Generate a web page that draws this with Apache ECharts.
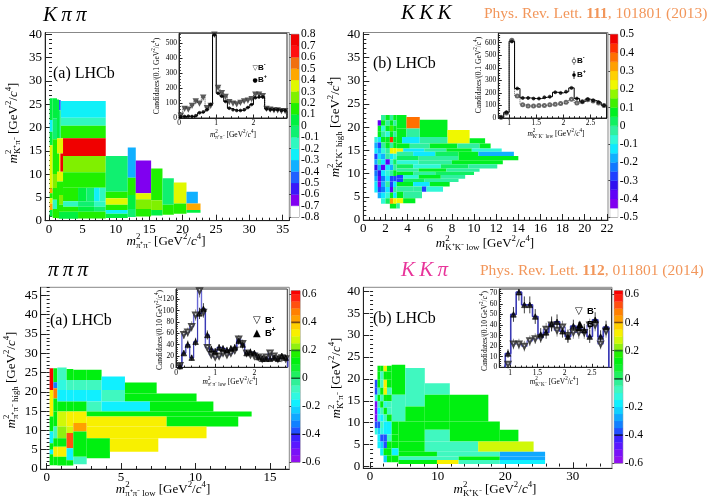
<!DOCTYPE html>
<html>
<head>
<meta charset="utf-8">
<script src="https://cdn.jsdelivr.net/npm/echarts@6.0.0/dist/echarts.min.js"></script>
<style>
html,body{margin:0;padding:0;background:#fff;}
#chart{width:716px;height:500px;}
</style>
</head>
<body>
<div id="chart"></div>
<script>
// ---------------- tick labels ----------------
const kppXTicks = [0,5,10,15,20,25,30,35];
const kppYTicks = [0,5,10,15,20,25,30,35,40];
const kkkXTicks = [0,2,4,6,8,10,12,14,16,18,20,22];
const kkkYTicks = [0,5,10,15,20,25,30,35,40];
const pppXTicks = [0,5,10,15];
const pppYTicks = [0,5,10,15,20,25,30,35,40,45];
const kkpXTicks = [0,10,20,30];
const kkpYTicks = [0,5,10,15,20,25,30,35,40];
const kppScale = [-0.8,-0.7,-0.6,-0.5,-0.4,-0.3,-0.2,-0.1,0,0.1,0.2,0.3,0.4,0.5,0.6,0.7,0.8];
const kkkScale = [-0.5,-0.4,-0.3,-0.2,-0.1,0,0.1,0.2,0.3,0.4,0.5];
const pppScale = [-0.6,-0.4,-0.2,0,0.2,0.4,0.6];
const kkpScale = [-0.6,-0.4,-0.2,0,0.2,0.4,0.6];
const kppInXTicks = [0,1,2];
const kppInYTicks = [0,100,200,300,400,500];
const kkkInXTicks = [1,1.5,2,2.5];
const kkkInYTicks = [0,100,200,300,400,500,600];
const pppInXTicks = [0,1,2];
const pppInYTicks = [0,20,40,60,80,100,120];
const kkpInXTicks = [1,1.5,2,2.5];
const kkpInYTicks = [0,10,20,30,40,50,60,70];

// ---------------- asymmetry cells [x0, x1, y0, y1, A_CP] ----------------
const kppCells = [
 [1.75,8.5,22.1,25.7,-0.25],[1.75,8.5,20.4,22.1,-0.15],[1.75,8.5,17.7,20.4,0.15],
 [2.1,8.5,13.9,17.7,0.75],[2.1,8.5,10.4,13.9,0.25],[2.1,8.5,7.1,10.4,0.15],
 [2.1,4.35,4.2,7.1,0.15],[4.35,5.6,4.2,7.1,0.05],[5.6,6.75,4.2,7.1,-0.05],[6.75,7.6,4.2,7.1,-0.25],[7.6,8.5,4.2,7.1,-0.15],
 [2.1,4.35,3.0,4.2,-0.15],[4.35,6.75,3.0,4.2,-0.05],[6.75,8.5,3.0,4.2,-0.15],
 [2.1,4.35,1.9,3.0,0.15],[4.35,6.75,1.9,3.0,0.05],[6.75,8.5,1.9,3.0,-0.05],
 [1.5,4.35,0.4,1.9,0.05],[4.35,8.5,0.45,1.9,0.15],
 [8.5,11.8,6.2,13.9,-0.05],[8.5,11.8,4.8,6.2,0.15],[8.5,11.8,3.4,4.8,0.35],[8.5,11.8,2.3,3.4,0.15],[8.5,11.8,1.5,2.3,-0.25],[8.5,11.8,0.6,1.5,0.05],
 [11.8,13.0,9.2,15.7,-0.35],[11.8,13.0,5.5,9.2,0.15],[11.8,13.0,2.5,5.5,0.05],[11.8,13.0,0.8,2.5,-0.05],
 [13.0,15.3,5.9,12.9,-0.65],[13.0,15.3,4.6,5.9,0.35],[13.0,15.3,2.5,4.6,0.25],[13.0,15.3,0.9,2.5,0.15],
 [15.3,17.0,4.4,11.2,0.15],[15.3,17.0,2.3,4.4,0.25],[15.3,17.0,1.1,2.3,0.05],
 [17.0,18.7,3.4,9.1,-0.05],[17.0,18.7,1.3,3.4,0.15],
 [18.7,20.6,3.7,8.2,0.35],[18.7,20.6,1.5,3.7,0.15],
 [20.6,22.3,3.7,6.2,-0.35],[20.6,22.7,2.3,3.7,0.45],[20.6,22.7,1.7,2.3,0.05],
 [0.1,0.55,21.6,26.3,0.05],[0.1,0.55,19.1,21.6,-0.25],[0.1,0.55,16.2,19.1,0.05],[0.1,0.55,6.9,16.2,0.35],[0.1,0.55,5.9,6.9,0.45],
 [0.1,0.55,4.8,5.9,0.15],[0.1,0.55,3.7,4.8,0.35],[0.1,0.55,2.3,3.7,0.45],[0.1,0.55,0.9,2.3,0.05],
 [0.55,1.2,22.0,26.3,0.05],[0.55,1.2,17.5,22.0,-0.05],[0.55,1.2,10.0,17.5,0.15],[0.55,1.2,7.0,10.0,0.25],[0.55,1.2,4.5,7.0,0.15],[0.55,1.2,2.5,4.5,-0.15],[0.55,1.2,0.6,2.5,0.15],
 [1.2,1.5,17.7,26.0,0.05],[1.2,1.5,14.4,17.7,0.35],[1.2,1.5,10.5,14.4,0.15],[1.2,1.5,8.4,10.5,0.35],[1.2,1.5,0.5,8.4,0.15],
 [1.5,1.75,23.7,25.9,-0.45],[1.5,1.75,17.7,23.7,-0.05],
 [1.5,2.1,14.4,17.7,0.35],[1.5,1.7,10.5,14.4,0.35],[1.7,2.1,10.5,14.4,0.75],[1.5,2.1,8.4,10.5,0.35],[1.5,2.1,5.5,8.4,0.15],[1.5,2.1,3.5,5.5,0.25],[1.5,2.1,1.9,3.5,0.15]
];

const kkkCells = [
 [3.0,3.9,19.7,22.6,0.075],[3.9,5.1,19.7,22.2,0.37],[5.1,7.6,17.9,21.6,0.075],[7.6,9.6,16.5,19.4,0.225],[9.6,11.0,16.5,17.6,0.075],
 [3.0,3.9,17.9,19.7,0.075],[3.9,5.1,17.9,19.7,-0.025],
 [3.0,3.5,16.5,17.9,0.075],[3.5,5.1,16.5,17.9,-0.125],[5.1,7.6,16.5,17.9,-0.025],
 [3.0,4.2,15.4,16.5,0.075],[4.2,6.0,15.4,16.5,-0.025],[6.0,8.5,15.4,16.5,0.075],[8.5,10.5,15.4,16.5,-0.025],[10.5,11.5,15.4,16.5,0.075],
 [3.0,3.6,14.7,15.4,0.225],[3.6,5.5,14.7,15.4,-0.125],[5.5,7.5,14.7,15.4,-0.025],[7.5,9.8,14.7,15.4,0.075],[9.8,12.5,14.7,15.4,-0.075],
 [3.0,4.5,13.8,14.7,-0.025],[4.5,6.5,13.8,14.7,-0.125],[6.5,8.6,13.8,14.7,0.025],[8.6,10.4,13.8,14.7,0.075],[10.4,13.6,13.8,14.7,-0.175],
 [3.0,5.0,12.9,13.8,0.025],[5.0,8.6,12.9,13.8,-0.025],[8.6,14.0,12.9,13.8,0.075],
 [3.0,5.0,12.0,12.9,-0.075],[5.0,8.0,12.0,12.9,-0.025],[8.0,12.6,12.0,12.9,0.075],
 [3.0,4.5,11.1,12.0,0.025],[4.5,7.0,11.1,12.0,-0.075],[7.0,9.5,11.1,12.0,0.025],[9.5,12.1,11.1,12.0,-0.025],
 [3.0,5.0,10.4,11.1,-0.025],[5.0,7.5,10.4,11.1,0.075],[7.5,10.5,10.4,11.1,-0.025],
 [3.0,4.5,9.7,10.4,0.075],[4.5,6.5,9.7,10.4,-0.025],[6.5,10.0,9.7,10.4,0.025],
 [3.0,3.6,8.9,9.7,-0.275],[3.6,5.0,8.9,9.7,-0.075],[5.0,7.0,8.9,9.7,0.075],[7.0,9.2,8.9,9.7,-0.025],
 [3.0,3.6,8.2,8.9,-0.275],[3.6,5.5,8.2,8.9,0.025],[5.5,8.6,8.2,8.9,-0.025],
 [3.0,4.5,7.2,8.2,0.075],[4.5,6.0,7.2,8.2,-0.125],[6.0,7.8,7.2,8.2,0.075],
 [3.0,4.5,6.1,7.2,-0.025],[4.5,5.3,6.1,7.2,-0.025],[5.3,5.7,6.1,7.2,-0.275],[5.7,7.2,6.1,7.2,-0.075],
 [3.0,3.6,4.7,6.1,0.075],[3.6,5.3,4.7,6.1,-0.025],
 [3.0,3.6,3.6,4.7,0.225],[3.6,4.7,3.6,4.7,0.075],
 [2.4,3.0,2.5,3.6,0.075],[3.0,3.3,2.5,3.6,-0.025]
];
const kkkLeftCols = [1.0,1.3,1.6,2.0,2.4,2.7,3.0];
const kkkLeftRows = [
 [21.5,22.6,[null,null,-0.025,0.075,-0.025,0.075]],
 [20.3,21.5,[null,-0.375,0.075,-0.025,0.075,-0.025]],
 [19.1,20.3,[null,0.075,-0.075,0.075,0.125,0.075]],
 [17.9,19.1,[null,0.075,-0.025,-0.075,0.075,-0.025]],
 [16.7,17.9,[-0.075,-0.125,0.075,0.075,0.425,0.075]],
 [15.5,16.7,[-0.175,-0.275,-0.025,0.075,-0.025,0.075]],
 [14.3,15.5,[-0.125,-0.175,-0.075,-0.025,0.225,0.225]],
 [13.1,14.3,[-0.275,-0.125,-0.175,-0.025,-0.125,-0.075]],
 [11.9,13.1,[-0.175,-0.025,-0.125,-0.375,-0.075,0.025]],
 [10.7,11.9,[-0.325,-0.175,-0.375,-0.125,-0.175,-0.025]],
 [9.5,10.7,[-0.225,-0.325,-0.125,-0.075,-0.025,0.075]],
 [8.3,9.5,[-0.175,-0.375,-0.225,-0.125,-0.275,-0.275]],
 [7.1,8.3,[-0.125,-0.425,-0.175,-0.025,-0.275,-0.125]],
 [5.9,7.1,[-0.125,-0.275,-0.225,-0.125,-0.375,-0.025]],
 [4.7,5.9,[null,-0.175,-0.125,-0.075,0.075,-0.125]],
 [3.5,4.7,[null,null,-0.075,0.025,0.325,0.225]]
];

const pppCells = [
 [0.2,0.45,20.5,26.1,0.6],[0.2,0.45,13.6,20.5,0.33],[0.2,0.45,9.7,13.6,0.12],[0.2,0.45,6.7,9.7,-0.17],[0.2,0.45,5.0,6.7,0.12],[0.2,0.45,3.8,5.0,-0.17],[0.2,0.45,1.0,3.8,0.12],
 [0.45,0.72,22.5,26.1,0.12],[0.45,0.72,20.9,22.5,-0.32],[0.45,0.72,18.3,20.9,0.47],[0.45,0.72,14.9,18.3,0.12],[0.45,0.72,11.0,14.9,0.12],[0.45,0.72,8.0,11.0,-0.07],[0.45,0.72,5.8,8.0,0.12],[0.45,0.72,3.2,5.8,0.33],[0.45,0.72,1.0,3.2,0.12],
 [0.72,1.34,23.1,26.3,-0.07],[0.72,1.34,20.5,23.1,-0.12],[0.72,1.34,17.5,20.5,-0.17],[0.72,1.34,14.9,17.5,0.12],[0.72,1.34,11.0,14.9,0.27],[0.72,1.34,8.0,11.0,0.22],[0.72,1.34,5.8,8.0,0.12],[0.72,1.34,3.2,5.8,0.33],[0.72,1.34,0.9,3.2,0.12],
 [1.34,1.79,23.1,25.9,0.12],[1.34,1.79,20.5,23.1,-0.07],[1.34,1.79,17.5,20.5,-0.17],[1.34,1.79,14.9,17.5,0.12],[1.34,1.79,11.0,14.9,0.33],[1.34,1.79,9.3,11.0,0.27],[1.34,1.79,5.4,9.3,0.52],[1.34,1.79,2.3,5.4,-0.17],[1.34,1.79,0.9,2.3,0.12],
 [1.79,2.69,23.1,25.7,0.12],[1.79,2.69,20.5,23.1,-0.07],[1.79,2.69,17.5,20.5,-0.17],[1.79,2.69,14.9,17.5,0.12],[1.79,2.69,11.9,14.9,0.33],[1.79,2.69,9.7,11.9,0.43],[1.79,2.69,3.2,9.7,0.12],[1.79,2.69,1.2,3.2,-0.07],
 [2.69,3.69,23.1,25.7,0.12],[2.69,3.69,20.5,23.1,-0.07],[3.69,5.26,20.5,24.0,-0.17],[5.26,7.39,19.6,22.4,0.12],
 [2.69,3.69,17.5,20.5,-0.17],[3.69,5.26,17.5,20.5,-0.07],[5.26,10.07,17.5,19.6,0.12],
 [2.69,3.69,14.9,17.5,-0.07],[3.69,6.94,14.9,17.5,-0.17],[6.94,11.2,14.9,17.5,0.12],
 [2.69,13.77,13.6,14.9,0.12],
 [2.69,8.06,11.0,13.6,0.33],[8.06,12.87,11.0,13.6,0.12],
 [2.69,10.74,8.0,11.0,0.33],
 [2.69,4.25,2.8,8.0,0.12],[4.25,7.5,4.5,8.0,0.33]
];

const kkpCells = [
 [3.2,5.2,16.4,23.2,0.12],[5.2,8.1,13.7,22.5,-0.07],[8.1,11.8,16.4,19.0,-0.07],[8.1,11.8,10.3,16.4,0.12],[11.8,17.5,10.3,16.4,0.12],
 [5.2,8.1,10.3,13.7,0.12],[3.2,5.2,10.3,16.4,-0.07],
 [4.2,8.1,5.7,10.3,0.12],[8.1,11.8,8.4,10.3,0.12],[8.1,11.8,5.7,8.4,-0.07],[11.8,19.2,5.7,10.3,0.12],[19.2,21.95,5.7,8.4,0.12],
 [4.2,8.1,3.4,5.7,0.12],[8.1,16.0,3.4,5.7,-0.07],[16.0,24.2,3.4,5.7,0.27],
 [4.2,9.9,2.3,3.4,0.12],[9.9,19.2,2.3,3.4,-0.07],[19.2,25.9,2.3,3.4,-0.28],
 [4.2,13.1,1.5,2.3,-0.07],[13.1,19.2,1.5,2.3,0.12],[19.2,25.9,1.5,2.3,-0.28],
 [4.2,9.9,0.6,1.5,0.12],[9.9,13.1,0.6,1.5,0.33],[13.1,19.2,0.6,1.5,-0.07],[19.2,25.9,0.6,1.5,-0.17]
];
const kkpLeftCols = [0.7,1.1,1.5,2.0,2.5,3.2,4.2];
const kkpLeftRows = [
 [21.7,23.0,[null,0.12,0.12,0.33,0.12,null]],
 [19.8,21.7,[null,0.12,-0.07,0.12,0.12,null]],
 [18.0,19.8,[-0.37,0.12,-0.07,0.33,0.12,null]],
 [16.4,18.0,[-0.37,-0.07,0.12,0.33,-0.07,null]],
 [14.9,16.4,[-0.12,0.12,-0.07,0.12,0.12,null]],
 [13.4,14.9,[-0.52,-0.07,0.12,-0.12,-0.07,null]],
 [11.9,13.4,[-0.52,-0.17,-0.07,0.12,-0.07,null]],
 [10.3,11.9,[-0.52,-0.12,-0.17,-0.07,0.12,null]],
 [8.8,10.3,[-0.37,-0.37,-0.07,-0.17,-0.17,0.12]],
 [7.3,8.8,[-0.12,-0.22,-0.12,-0.17,-0.17,0.12]],
 [5.7,7.3,[null,-0.17,-0.37,-0.37,-0.07,0.12]],
 [4.2,5.7,[null,-0.17,-0.22,-0.37,0.12,0.12]],
 [2.5,4.2,[null,null,-0.17,0.12,0.12,-0.17]],
 [1.0,2.5,[null,null,null,-0.22,0.12,0.12]]
];

// ---------------- inset histograms ----------------
const kppInStart = 0, kppInWidth = 0.1;
const kppInBplus  = [8,10,12,10,15,35,40,55,90,555,165,145,110,65,55,50,50,55,70,90,135,140,140,60,55,55,55,50,50];
const kppInBminus = [20,65,60,85,115,100,140,70,85,560,205,170,145,110,100,95,105,115,120,130,160,160,150,65,60,55,55,50,50];
const kkkInStart = 0.8, kkkInWidth = 0.1;
const kkkInBplus  = [5,45,610,235,160,160,155,155,165,170,205,200,210,240,155,130,150,140,125,100];
const kkkInBminus = [5,40,620,175,105,95,95,100,100,105,110,115,125,150,120,130,145,135,120,100];
const pppInStart = 0.05, pppInWidth = 0.1;
const pppInBplus  = [2,25,40,17,45,95,103,57,32,28,35,33,30,33,35,47,40,25,27,25,18,15,15,15,17,15,20,17];
const pppInBminus = [3,58,62,72,92,135,97,35,22,18,20,25,22,25,30,50,42,25,22,20,18,15,18,25,20,15,17,15];
const pppInBplusErr  = [2,5,7,5,7,10,10,8,6,6,6,6,6,6,6,7,7,5,6,5,5,4,4,4,4,4,5,4];
const pppInBminusErr = [2,8,8,9,10,12,10,6,5,4,5,5,5,5,6,7,7,5,5,5,4,4,4,5,5,4,4,4];
const kkpInStart = 0.91, kkpInWidth = 0.1;
const kkpInBplus  = [13,50,71,59,59,48,31,33,41,43,34,29,39,37,35,29,45,29,38];
const kkpInBminus = [3,22,22,20,25,27,28,36,40,35,38,30,33,33,33,40,40,22,34];
const kkpInBplusErr  = [4,7,8,8,8,7,6,6,7,7,6,6,6,6,6,6,7,6,6];
const kkpInBminusErr = [2,5,5,5,5,5,5,6,6,6,6,6,6,6,6,6,6,5,6];

// ---------------- palettes (style) ----------------
const kppPal = {min:-0.8, step:0.1, colors:['#ffffff','#8000f0','#3a18f8','#2060ff','#10b0ff','#10f0f8','#30f8c0','#10f070','#00f040','#20f000','#80f000','#e0f800','#ffa800','#f07010','#ff1010','#f00000']};
const kkkPal = {min:-0.5, step:0.05, colors:['#ffffff','#8000f0','#6000f8','#3010f0','#2040ff','#1078ff','#10b0ff','#10e8ff','#30f8d8','#30f0a0','#10f060','#00f020','#40f000','#90f800','#f0f800','#ffd000','#ffa000','#ff7000','#ff3000','#f00000']};
const pkPal = {min:-0.6, step:0.05, colors:['#9010f0','#7a10f8','#5a18ff','#3c20ff','#2050ff','#1080ff','#10a8ff','#10d0ff','#10f0ff','#30f8e0','#40f8c0','#30f098','#20f060','#10f030','#00f010','#20f000','#90f010','#d0f808','#f8f000','#ffd000','#ffa000','#ff8000','#ff5010','#ff2010','#f80000']};
function palColor(p, v){ const n=p.colors.length; let i=Math.floor((v-p.min)/p.step+1e-6); i=Math.max(0,Math.min(n-1,i)); return p.colors[i]; }

const SERIF = '"Liberation Serif","Times New Roman",serif';
const SANS = '"Liberation Sans",Arial,sans-serif';
const SYM = '"DejaVu Sans",sans-serif';

function tableCells(cols, rows){ const out=[]; rows.forEach(r=>r[2].forEach((v,i)=>{ if(v!==null) out.push([cols[i],cols[i+1],r[0],r[1],v]); })); return out; }

// ---------------- layout ----------------
const grids = [
 {left:45, top:32.5, width:244.3, height:188.2, show:true, borderColor:'#888', borderWidth:1},
 {left:363.3, top:32.5, width:244.7, height:187.5, show:true, borderColor:'#888', borderWidth:1},
 {left:40.7, top:287.3, width:248.6, height:181.7, show:true, borderColor:'#888', borderWidth:1},
 {left:363.3, top:287.3, width:248.7, height:181, show:true, borderColor:'#888', borderWidth:1},
 {left:291, top:34.3, width:8, height:183, show:true, borderColor:'#777', borderWidth:0.8},
 {left:610.3, top:34.3, width:7.4, height:183, show:true, borderColor:'#777', borderWidth:0.8},
 {left:291.3, top:290.7, width:8.7, height:171.6, show:true, borderColor:'#777', borderWidth:0.8},
 {left:614.3, top:290.7, width:8.4, height:172.6, show:true, borderColor:'#777', borderWidth:0.8},
 {left:179, top:33.3, width:108, height:84.7, show:true, borderColor:'#333', borderWidth:1, backgroundColor:'#fff'},
 {left:498.3, top:33.3, width:108.4, height:84.7, show:true, borderColor:'#333', borderWidth:1, backgroundColor:'#fff'},
 {left:176, top:289, width:111.3, height:78.3, show:true, borderColor:'#333', borderWidth:1, backgroundColor:'#fff'},
 {left:499.3, top:289, width:112.2, height:78.3, show:true, borderColor:'#333', borderWidth:1, backgroundColor:'#fff'}
];

const xAxes=[], yAxes=[];
function majorAxis(grid,pos,min,max,ticks,st,margin){
  return {gridIndex:grid,type:'value',position:pos,min:min,max:max,
    axisLine:{show:true,onZero:false,lineStyle:{color:'#222',width:1}},
    axisTick:{show:true,inside:true,length:st.len,customValues:ticks,lineStyle:{color:'#222',width:1}},
    axisLabel:{show:true,customValues:ticks,margin:margin,fontFamily:SERIF,fontSize:st.fs,color:'#000',showMinLabel:true,showMaxLabel:true,hideOverlap:false},
    splitLine:{show:false}};
}
function minorAxis(grid,pos,min,max,step,st){
  const vals=[]; for(let v=Math.ceil(min/step-1e-9)*step; v<=max+1e-9; v+=step) vals.push(+v.toFixed(4));
  return {gridIndex:grid,type:'value',position:pos,min:min,max:max,axisLine:{show:false},
    axisTick:{show:true,inside:true,length:st.mlen,customValues:vals,lineStyle:{color:'#222',width:1}},
    axisLabel:{show:false},splitLine:{show:false}};
}
function axes(grid,xr,yr,xt,yt,xm,ym,st){
  const xi=xAxes.length, yi=yAxes.length;
  xAxes.push(majorAxis(grid,'bottom',xr[0],xr[1],xt,st,st.xm));
  xAxes.push(minorAxis(grid,'bottom',xr[0],xr[1],xm,st));
  yAxes.push(majorAxis(grid,'left',yr[0],yr[1],yt,st,st.ym));
  yAxes.push(minorAxis(grid,'left',yr[0],yr[1],ym,st));
  return [xi,yi];
}
const mainSt = {fs:13, len:6, mlen:3, xm:2, ym:3};
const inSt = {fs:7.5, len:3.5, mlen:1.8, xm:1.5, ym:2};
const A0 = axes(0,[-0.6,36],[0,40.4],kppXTicks,kppYTicks,1,1,mainSt);
const A1 = axes(1,[0,22.1],[0,40.4],kkkXTicks,kkkYTicks,0.5,1,mainSt);
const A2 = axes(2,[-0.4,16.3],[0,47.1],pppXTicks,pppYTicks,1,1,mainSt);
const A3 = axes(3,[-1,35.8],[-0.4,40.9],kkpXTicks,kkpYTicks,2,1,mainSt);
const I0 = axes(8,[0,2.9],[0,565],kppInXTicks,kppInYTicks,0.2,20,inSt);
const I1 = axes(9,[0.8,2.8],[0,675],kkkInXTicks,kkkInYTicks,0.1,20,inSt);
const I2 = axes(10,[0,2.84],[0,138],pppInXTicks,pppInYTicks,0.2,4,inSt);
const I3 = axes(11,[0.8,2.86],[0,74],kkpInXTicks,kkpInYTicks,0.1,2,inSt);

// colour bar: labels split over two coincident axes so neighbouring labels never collide
function cbLabelAxis(grid,min,max,vals,fs){
  return {gridIndex:grid,type:'value',position:'right',offset:0,min:min,max:max,
    axisLine:{show:false},
    axisTick:{show:true,inside:true,length:2,customValues:vals,lineStyle:{color:'#444'}},
    axisLabel:{customValues:vals,margin:2,fontFamily:SERIF,fontSize:fs,color:'#000',showMinLabel:true,showMaxLabel:true,hideOverlap:false,
      formatter:v=>String(Math.round(v*10)/10)},
    splitLine:{show:false}};
}
function cbAxes(grid,min,max,scale,fs){
  const xi=xAxes.length, yi=yAxes.length;
  xAxes.push({gridIndex:grid,type:'value',min:0,max:1,show:false});
  yAxes.push(cbLabelAxis(grid,min,max,scale.filter((v,i)=>i%2===0),fs));
  yAxes.push(cbLabelAxis(grid,min,max,scale.filter((v,i)=>i%2===1),fs));
  return [xi,yi];
}
const C0 = cbAxes(4,-0.8,0.8,kppScale,11.5);
const C1 = cbAxes(5,-0.5,0.5,kkkScale,11.5);
const C2 = cbAxes(6,-0.6,0.626,pppScale,11.5);
const C3 = cbAxes(7,-0.6,0.626,kkpScale,11.5);

// ---------------- series ----------------
function cellSeries(ax, cells, pal){
  return {type:'custom', xAxisIndex:ax[0], yAxisIndex:ax[1], data:cells, clip:true, silent:true, z:2,
    encode:{x:[0,1], y:[2,3]},
    renderItem:function(params, api){
      const a = api.coord([api.value(0), api.value(3)]);
      const b = api.coord([api.value(1), api.value(2)]);
      const c = palColor(pal, api.value(4));
      return {type:'rect', shape:{x:a[0], y:a[1], width:b[0]-a[0], height:b[1]-a[1]}, style:{fill:c}};
    }};
}
function barSeries(ax, pal){
  const data = pal.colors.map((c,i)=>[i]);
  return {type:'custom', xAxisIndex:ax[0], yAxisIndex:ax[1], data:data, clip:true, silent:true, z:2,
    renderItem:function(params, api){
      const i = api.value(0);
      const lo = pal.min + i*pal.step, hi = lo + pal.step;
      const a = api.coord([0, hi]); const b = api.coord([1, lo]);
      return {type:'rect', shape:{x:a[0], y:a[1], width:b[0]-a[0], height:b[1]-a[1]}, style:{fill:pal.colors[i], stroke:pal.colors[i], lineWidth:0.3}};
    }};
}
const pkLevels = [0.4, 0.2, 0, -0.4];
const pkLevelColors = ['#7a4a10','#1f7a1f','#0f5f30','#14145a'];
function levelSeries(ax){
  return {type:'custom', xAxisIndex:ax[0], yAxisIndex:ax[1], data:pkLevels.map(v=>[v]), clip:true, silent:true, z:3,
    renderItem:function(params, api){
      const p = api.coord([0, api.value(0)]); const q = api.coord([1, api.value(0)]);
      return {type:'rect', shape:{x:p[0], y:p[1]-0.8, width:q[0]-p[0], height:1.6}, style:{fill:pkLevelColors[params.dataIndex]}};
    }};
}
function stepData(start, w, vals){ const d=[[start,0]]; vals.forEach((v,i)=>{ d.push([+(start+i*w).toFixed(4), v]); d.push([+(start+(i+1)*w).toFixed(4), v]); }); d.push([+(start+vals.length*w).toFixed(4),0]); return d; }
function centerData(start, w, vals){ return vals.map((v,i)=>[+(start+(i+0.5)*w).toFixed(4), v]); }
function hist(ax, start, w, vals, color, width, type){
  return {type:'line', xAxisIndex:ax[0], yAxisIndex:ax[1], data:stepData(start,w,vals), symbol:'none', showSymbol:false, silent:true, clip:true, z:5,
    lineStyle:{color:color, width:width, type:type}};
}
function marks(ax, start, w, vals, symbol, size, color, rot, bw){
  return {type:'scatter', xAxisIndex:ax[0], yAxisIndex:ax[1], data:centerData(start,w,vals), symbol:symbol, symbolSize:size, symbolRotate:rot||0, silent:true, clip:true, z:6,
    itemStyle:{color:color, borderColor:color, borderWidth:bw||0.8}};
}
function errBars(ax, start, w, vals, errs, color){
  const data = vals.map((v,i)=>[+(start+(i+0.5)*w).toFixed(4), v, errs[i]]);
  return {type:'custom', xAxisIndex:ax[0], yAxisIndex:ax[1], data:data, clip:true, silent:true, z:5,
    renderItem:function(params, api){
      const x=api.value(0), v=api.value(1), e=api.value(2);
      const p=api.coord([x, v-e]), q=api.coord([x, v+e]);
      return {type:'line', shape:{x1:p[0], y1:p[1], x2:q[0], y2:q[1]}, style:{stroke:color, lineWidth:0.8}};
    }};
}

const series = [
 cellSeries(A0, kppCells, kppPal),
 cellSeries(A1, kkkCells.concat(tableCells(kkkLeftCols, kkkLeftRows)), kkkPal),
 cellSeries(A2, pppCells, pkPal),
 cellSeries(A3, kkpCells.concat(tableCells(kkpLeftCols, kkpLeftRows)), pkPal),
 barSeries(C0, kppPal), barSeries(C1, kkkPal), barSeries(C2, pkPal), barSeries(C3, pkPal),
 levelSeries(C2), levelSeries(C3),
 hist(I0, kppInStart, kppInWidth, kppInBminus, '#444', 1, 'dotted'),
 hist(I0, kppInStart, kppInWidth, kppInBplus, '#000', 1, 'solid'),
 marks(I0, kppInStart, kppInWidth, kppInBminus, 'emptyTriangle', 3.2, '#333', 180, 0.6),
 marks(I0, kppInStart, kppInWidth, kppInBplus, 'circle', 2.8, '#000'),
 hist(I1, kkkInStart, kkkInWidth, kkkInBminus, '#555', 1, 'dotted'),
 hist(I1, kkkInStart, kkkInWidth, kkkInBplus, '#000', 1, 'solid'),
 marks(I1, kkkInStart, kkkInWidth, kkkInBminus, 'emptyCircle', 3, '#444', 0, 0.6),
 marks(I1, kkkInStart, kkkInWidth, kkkInBplus, 'circle', 3, '#000'),
 hist(I2, pppInStart, pppInWidth, pppInBminus, '#6a6ad8', 1.4, 'solid'),
 hist(I2, pppInStart, pppInWidth, pppInBplus, '#3a3ab4', 1.2, 'solid'),
 errBars(I2, pppInStart, pppInWidth, pppInBminus, pppInBminusErr, '#777'),
 errBars(I2, pppInStart, pppInWidth, pppInBplus, pppInBplusErr, '#111'),
 marks(I2, pppInStart, pppInWidth, pppInBminus, 'emptyTriangle', 5, '#222', 180),
 marks(I2, pppInStart, pppInWidth, pppInBplus, 'triangle', 5.5, '#000'),
 hist(I3, kkpInStart, kkpInWidth, kkpInBminus, '#6a6ad8', 1.2, 'solid'),
 hist(I3, kkpInStart, kkpInWidth, kkpInBplus, '#3a3ab4', 1.6, 'solid'),
 errBars(I3, kkpInStart, kkpInWidth, kkpInBminus, kkpInBminusErr, '#777'),
 errBars(I3, kkpInStart, kkpInWidth, kkpInBplus, kkpInBplusErr, '#111'),
 marks(I3, kkpInStart, kkpInWidth, kkpInBminus, 'emptyTriangle', 5, '#222', 180),
 marks(I3, kkpInStart, kkpInWidth, kkpInBplus, 'triangle', 5.5, '#000')
];

// ---------------- text ----------------
const mctx = document.createElement('canvas').getContext('2d');
function tw(t, font){ mctx.font = font; return mctx.measureText(t).width; }
function mt(parts, o){
  const kids=[]; let x=0; let prev=null; const fam=o.family||SERIF; const col=o.color||'#000';
  parts.forEach(p=>{
    const t=p[0], k=p[1];
    const small=(k==='sup'||k==='sub');
    const fs= small ? o.size*0.68 : o.size;
    const font=(k==='i'?'italic ':'')+((k==='b'||o.bold)?'bold ':'')+fs+'px '+fam;
    const w=tw(t,font);
    let x0=x;
    if(k==='sub' && prev && prev.k==='sup') x0=prev.x0;
    const dy = k==='sup' ? -o.size*0.38 : (k==='sub' ? o.size*0.3 : 0);
    kids.push({type:'text', x:x0, y:dy, z:100, zlevel:1, style:{text:t, font:font, fill:col, textAlign:'left', textVerticalAlign:'middle', align:'left', verticalAlign:'middle'}});
    x=Math.max(x, x0+w); prev={k:k, x0:x0};
  });
  const off = o.anchor==='left' ? 0 : -x/2;
  kids.forEach(c=>{ c.x+=off; });
  return {type:'group', x:o.x, y:o.y, rotation:o.rot||0, z:100, zlevel:1, children:kids};
}
function mass(sub){ return [['m','i'],['2','sup'],[sub,'sub'],[' [GeV','n'],['2','sup'],['/','n'],['c','i'],['4','sup'],[']','n']]; }
function cand(w){ return [['Candidates/('+w+' GeV','n'],['2','sup'],['/','n'],['c','i'],['4','sup'],[')','n']]; }
const R = Math.PI/2;
const graphics = [
 // inset legends
 mt([['\u25bd','n']], {x:575, y:311, size:10, family:SYM, anchor:'left'}),
 mt([['B','n'],['-','sup']], {x:587, y:311.5, size:9.5, family:SANS, bold:true, anchor:'left'}),
 mt([['\u25b2','n']], {x:576, y:324, size:10, family:SYM, anchor:'left'}),
 mt([['B','n'],['+','sup']], {x:587, y:324.5, size:9.5, family:SANS, bold:true, anchor:'left'}),
 mt([['\u25bd','n']], {x:253, y:320, size:10, family:SYM, anchor:'left'}),
 mt([['B','n'],['-','sup']], {x:265, y:320.5, size:9.5, family:SANS, bold:true, anchor:'left'}),
 mt([['\u25b2','n']], {x:253, y:333, size:10, family:SYM, anchor:'left'}),
 mt([['B','n'],['+','sup']], {x:265, y:333.5, size:9.5, family:SANS, bold:true, anchor:'left'}),
 mt([['\u25bd','n']], {x:252.5, y:68, size:7, family:SYM, anchor:'left', color:'#333'}),
 mt([['B','n'],['-','sup']], {x:258, y:68, size:8, family:SANS, bold:true, anchor:'left'}),
 mt([['\u25cf','n']], {x:252.5, y:80, size:6, family:SYM, anchor:'left'}),
 mt([['B','n'],['+','sup']], {x:258, y:80, size:8, family:SANS, bold:true, anchor:'left'}),
 {type:'line', z:100, zlevel:1, shape:{x1:574,y1:57,x2:574,y2:65}, style:{stroke:'#555', lineWidth:0.8}},
 {type:'circle', z:101, zlevel:1, shape:{cx:574,cy:61,r:1.8}, style:{fill:'#fff', stroke:'#444', lineWidth:0.8}},
 mt([['B','n'],['-','sup']], {x:577, y:61, size:8, family:SANS, bold:true, anchor:'left'}),
 {type:'line', z:100, zlevel:1, shape:{x1:574,y1:71,x2:574,y2:79}, style:{stroke:'#000', lineWidth:0.8}},
 {type:'circle', z:101, zlevel:1, shape:{cx:574,cy:75,r:1.8}, style:{fill:'#000'}},
 mt([['B','n'],['+','sup']], {x:577, y:75, size:8, family:SANS, bold:true, anchor:'left'}),
 // titles
 mt([['K\u2009\u03c0\u2009\u03c0','i']], {x:43, y:15, size:21, anchor:'left'}),
 mt([['K\u2009K\u2009K','i']], {x:401, y:13.5, size:21, anchor:'left'}),
 mt([['\u03c0\u2009\u03c0\u2009\u03c0','i']], {x:48, y:270, size:21, anchor:'left'}),
 mt([['K\u2009K\u2009\u03c0','i']], {x:401, y:270, size:21, anchor:'left', color:'#e8359a'}),
 mt([['Phys. Rev. Lett. ','n'],['111','b'],[', 101801 (2013)','n']], {x:484, y:14, size:15.5, anchor:'left', color:'#f2965a'}),
 mt([['Phys. Rev. Lett. ','n'],['112','b'],[', 011801 (2014)','n']], {x:480, y:270.5, size:15.5, anchor:'left', color:'#f2965a'}),
 mt([['(a) LHCb','n']], {x:53, y:73.5, size:16, anchor:'left'}),
 mt([['(b) LHCb','n']], {x:373, y:64, size:16, anchor:'left'}),
 mt([['(a) LHCb','n']], {x:50, y:321, size:16, anchor:'left'}),
 mt([['(b) LHCb','n']], {x:373, y:319, size:16, anchor:'left'}),
 // axis titles
 mt(mass('\u03c0\u207a\u03c0\u207b'), {x:166, y:242, size:13}),
 mt(mass('K\u207a\u03c0\u207b'), {x:14, y:123, size:13, rot:R}),
 mt(mass('K\u207aK\u207b low'), {x:485, y:244, size:13}),
 mt(mass('K\u207aK\u207b high'), {x:336, y:127, size:13, rot:R}),
 mt(mass('\u03c0\u207a\u03c0\u207b low'), {x:163, y:490, size:13}),
 mt(mass('\u03c0\u207a\u03c0\u207b high'), {x:12, y:380, size:13, rot:R}),
 mt(mass('K\u207aK\u207b'), {x:495, y:490, size:13}),
 mt(mass('K\u207a\u03c0\u207b'), {x:337, y:378, size:13, rot:R}),
 mt(cand('0.1'), {x:157, y:76, size:7.5, rot:R}),
 mt(mass('\u03c0\u207a\u03c0\u207b'), {x:233, y:135, size:7.5}),
 mt(cand('0.1'), {x:479, y:75, size:7.5, rot:R}),
 mt(mass('K\u207aK\u207b low'), {x:556, y:134, size:7.5}),
 mt(cand('0.10'), {x:160, y:330, size:7.5, rot:R}),
 mt(mass('\u03c0\u207a\u03c0\u207b low'), {x:230, y:382, size:7.5}),
 mt(cand('0.10'), {x:485, y:331, size:7.5, rot:R}),
 mt(mass('K\u207aK\u207b'), {x:554, y:382, size:7.5})
];

const chart = echarts.init(document.getElementById('chart'), null, {renderer:'canvas', width:716, height:500});
chart.setOption({
  animation:false,
  backgroundColor:'#fff',
  grid:grids,
  xAxis:xAxes,
  yAxis:yAxes,
  series:series,
  graphic:{elements:graphics}
});
</script>
</body>
</html>
